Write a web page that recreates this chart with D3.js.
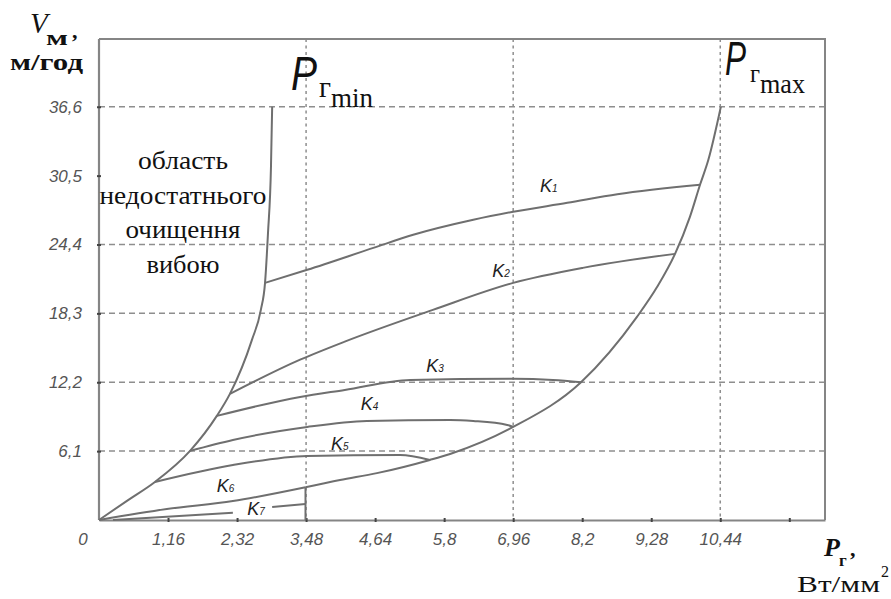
<!DOCTYPE html>
<html>
<head>
<meta charset="utf-8">
<script src="https://cdn.jsdelivr.net/npm/d3@7"></script>
<style>
  body { margin: 0; background: #fff; }
  svg { display: block; }
</style>
</head>
<body>
<div id="chart"></div>
<script>
// ── Data ──────────────────────────────────────────────────────────────

const xTicks = [1.16, 2.32, 3.48, 4.64, 5.8, 6.96, 8.12, 9.28, 10.44, 11.6];
const xTickLabels = ['1,16', '2,32', '3,48', '4,64', '5,8', '6,96', '8,2', '9,28', '10,44', ''];
const yTicks = [6.1, 12.2, 18.3, 24.4, 30.5, 36.6];
const yTickLabels = ['6,1', '12,2', '18,3', '24,4', '30,5', '36,6'];
const yGrid = [6.1, 12.2, 18.3, 24.4, 36.6];
const xGrid = [3.48, 6.96, 10.44];

// boundary curves (P_г min / P_г max)
const pMinCurve = [[0, 0], [0.47, 1.7], [0.94, 3.37], [1.53, 6.12], [1.98, 9.22], [2.20, 11.17],
  [2.57, 15.95], [2.72, 18.61], [2.79, 21.0], [2.84, 25.43], [2.89, 31.28], [2.91, 36.6]];
const pMaxCurve = [[3.47, 2.9], [4.05, 3.54], [4.67, 4.15], [5.56, 5.32], [5.90, 5.85], [6.96, 8.24],
  [8.10, 12.2], [9.04, 17.99], [9.38, 20.65], [9.68, 23.57], [9.93, 26.85], [10.10, 29.69],
  [10.24, 31.9], [10.45, 36.6]];
const stepLine = [[3.47, 2.9], [3.47, 0]];

// K curves
const k1 = [[2.79, 21.0], [3.50, 22.16], [4.61, 24.1], [5.28, 25.26], [6.29, 26.59], [6.96, 27.30],
  [7.87, 28.09], [8.71, 28.85], [10.10, 29.69]];
const k2 = [[2.20, 11.17], [3.38, 14.2], [4.13, 15.8], [5.61, 18.61], [6.96, 21.0], [8.13, 22.33], [9.68, 23.57]];
const k3 = [[1.98, 9.22], [3.38, 10.90], [4.13, 11.52], [5.23, 12.41], [6.96, 12.5], [7.63, 12.41], [8.10, 12.2]];
const k4 = [[1.53, 6.12], [2.25, 7.09], [3.50, 8.24], [4.50, 8.77], [5.90, 8.86], [6.29, 8.77], [6.86, 8.42], [6.96, 8.24]];
const k5 = [[0.94, 3.37], [2.25, 4.87], [3.50, 5.67], [5.06, 5.76], [5.56, 5.32]];
const k6 = [[0, 0], [1.14, 0.97], [2.25, 1.68], [3.47, 2.9]];
const k7 = [[0.235, 0], [2.25, 0.64], null, [2.91, 1.16], [3.47, 1.42]];

const kNames = ['1', '2', '3', '4', '5', '6', '7'];
const kLabelAt = [[7.51, 29.7], [6.71, 22.1], [5.60, 13.7], [4.50, 10.4], [4.0, 6.8], [2.08, 3.1], [2.59, 1.06]];

// ── Setup ─────────────────────────────────────────────────────────────

const W = 891, H = 599;
const GRAY = '#858585';
const CURVE = '#6f6f6f';
const TICKFONT = '"Liberation Sans", Arial, sans-serif';
const SERIF = '"Liberation Serif", "Times New Roman", serif';

const x = d3.scaleLinear().domain([0, 12.2]).range([99, 825]);
const y = d3.scaleLinear().domain([0, 42.6]).range([520, 39]);

const svg = d3.select('#chart').append('svg')
  .attr('width', W).attr('height', H)
  .attr('viewBox', `0 0 ${W} ${H}`);

// Grid
svg.append('g').selectAll('line')
  .data(yGrid)
  .join('line')
  .attr('x1', x(0)).attr('x2', x(12.2))
  .attr('y1', d => y(d)).attr('y2', d => y(d))
  .attr('stroke', '#8e8e8e').attr('stroke-width', 1.5)
  .attr('stroke-dasharray', '6,4');

svg.append('g').selectAll('line')
  .data(xGrid)
  .join('line')
  .attr('x1', d => x(d)).attr('x2', d => x(d))
  .attr('y1', y(42.6)).attr('y2', y(0))
  .attr('stroke', '#8e8e8e').attr('stroke-width', 1.5)
  .attr('stroke-dasharray', '3,3.5');

// Frame (top + right)
svg.append('path')
  .attr('d', `M${x(0)},${y(42.6)}H${x(12.2)}V${y(0)}`)
  .attr('fill', 'none').attr('stroke', GRAY).attr('stroke-width', 2);

// Axes
const xAxis = d3.axisBottom(x)
  .tickValues(xTicks)
  .tickFormat((d, i) => xTickLabels[i])
  .tickSizeInner(2).tickSizeOuter(0).tickPadding(11);
const gx = svg.append('g').attr('transform', `translate(0,${y(0)})`).call(xAxis);
gx.select('.domain').attr('stroke', GRAY).attr('stroke-width', 2.2);
gx.selectAll('.tick line').attr('y1', -2).attr('y2', 2).attr('stroke', '#444').attr('stroke-width', 2);
gx.selectAll('text')
  .attr('font-family', TICKFONT).attr('font-style', 'italic')
  .attr('font-size', 17).attr('fill', '#555');

const yAxis = d3.axisLeft(y)
  .tickValues(yTicks)
  .tickFormat((d, i) => yTickLabels[i])
  .tickSizeInner(2).tickSizeOuter(0).tickPadding(15);
const gy = svg.append('g').attr('transform', `translate(${x(0)},0)`).call(yAxis);
gy.select('.domain').attr('stroke', GRAY).attr('stroke-width', 2.2)
  .attr('d', `M0,${y(42.6)}V${y(0)}`);
gy.selectAll('.tick line').attr('x1', -2).attr('x2', 2).attr('stroke', '#444').attr('stroke-width', 2);
gy.selectAll('text')
  .attr('font-family', TICKFONT).attr('font-style', 'italic')
  .attr('font-size', 17).attr('fill', '#555');

svg.append('text')
  .attr('x', 83).attr('y', 545)
  .attr('text-anchor', 'middle')
  .attr('font-family', TICKFONT).attr('font-style', 'italic')
  .attr('font-size', 17).attr('fill', '#555')
  .text('0');

// Curves
const smooth = d3.line()
  .defined(d => d !== null)
  .x(d => x(d[0])).y(d => y(d[1]))
  .curve(d3.curveMonotoneX);
const straight = d3.line().x(d => x(d[0])).y(d => y(d[1]));

const curves = [pMinCurve, pMaxCurve, k1, k2, k3, k4, k5, k6, k7];
svg.append('g').selectAll('path')
  .data(curves)
  .join('path')
  .attr('d', smooth)
  .attr('fill', 'none')
  .attr('stroke', CURVE).attr('stroke-width', 2)
  .attr('stroke-linejoin', 'round');

svg.append('path')
  .attr('d', straight(stepLine))
  .attr('fill', 'none').attr('stroke', CURVE).attr('stroke-width', 2);

// K labels
const kl = svg.append('g').selectAll('text')
  .data(kNames)
  .join('text')
  .attr('x', (d, i) => x(kLabelAt[i][0]) - 6)
  .attr('y', (d, i) => y(kLabelAt[i][1]) + 7)
  .attr('font-family', TICKFONT).attr('font-style', 'italic')
  .attr('font-size', 18).attr('fill', '#222');
kl.append('tspan').text('K');
kl.append('tspan').attr('font-size', 10).text(d => d);

// Region text
const region = ['область', 'недостатнього', 'очищення', 'вибою'];
const regionW = [90, 167, 115, 73];
svg.append('g').selectAll('text')
  .data(region)
  .join('text')
  .attr('x', 183)
  .attr('y', (d, i) => 169 + i * 34.5)
  .attr('text-anchor', 'middle')
  .attr('font-family', SERIF).attr('font-size', 25)
  .attr('fill', '#111')
  .attr('textLength', (d, i) => regionW[i])
  .attr('lengthAdjust', 'spacingAndGlyphs')
  .text(d => d);

// Y axis title: V_м , / м/год
svg.append('text').attr('x', 30).attr('y', 33)
  .attr('font-family', SERIF).attr('font-style', 'italic')
  .attr('font-size', 29).attr('fill', '#111').text('V');
svg.append('text').attr('x', 46).attr('y', 45)
  .attr('font-family', SERIF).attr('font-weight', 'bold')
  .attr('font-size', 21).attr('fill', '#111')
  .attr('textLength', 22).attr('lengthAdjust', 'spacingAndGlyphs').text('м');
svg.append('text').attr('x', 72).attr('y', 38)
  .attr('font-family', SERIF).attr('font-weight', 'bold')
  .attr('font-size', 22).attr('fill', '#111').text(',');
svg.append('text').attr('x', 10).attr('y', 70)
  .attr('font-family', SERIF).attr('font-weight', 'bold')
  .attr('font-size', 24).attr('fill', '#111')
  .attr('textLength', 73).attr('lengthAdjust', 'spacingAndGlyphs').text('м/год');

// P_г min
svg.append('text').attr('x', 291).attr('y', 90)
  .attr('font-family', TICKFONT).attr('font-style', 'italic')
  .attr('font-size', 48).attr('fill', '#111')
  .attr('textLength', 26).attr('lengthAdjust', 'spacingAndGlyphs').text('P');
svg.append('text').attr('x', 319).attr('y', 97)
  .attr('font-family', SERIF).attr('font-size', 30).attr('fill', '#111')
  .attr('textLength', 12).attr('lengthAdjust', 'spacingAndGlyphs').text('г');
svg.append('text').attr('x', 331).attr('y', 107)
  .attr('font-family', SERIF).attr('font-size', 28).attr('fill', '#111')
  .attr('textLength', 42).attr('lengthAdjust', 'spacingAndGlyphs').text('min');

// P_г max
svg.append('text').attr('x', 725).attr('y', 75)
  .attr('font-family', TICKFONT).attr('font-style', 'italic')
  .attr('font-size', 48).attr('fill', '#111')
  .attr('textLength', 21).attr('lengthAdjust', 'spacingAndGlyphs').text('P');
svg.append('text').attr('x', 750).attr('y', 82)
  .attr('font-family', SERIF).attr('font-size', 26).attr('fill', '#111')
  .attr('textLength', 10).attr('lengthAdjust', 'spacingAndGlyphs').text('г');
svg.append('text').attr('x', 760).attr('y', 93)
  .attr('font-family', SERIF).attr('font-size', 28).attr('fill', '#111')
  .attr('textLength', 45).attr('lengthAdjust', 'spacingAndGlyphs').text('max');

// X axis title: P_г , / Вт/мм²
svg.append('text').attr('x', 824).attr('y', 556)
  .attr('font-family', SERIF).attr('font-style', 'italic').attr('font-weight', 'bold')
  .attr('font-size', 26).attr('fill', '#111').text('P');
svg.append('text').attr('x', 839).attr('y', 566)
  .attr('font-family', SERIF).attr('font-weight', 'bold')
  .attr('font-size', 17).attr('fill', '#111').text('г');
svg.append('text').attr('x', 850).attr('y', 556)
  .attr('font-family', SERIF).attr('font-weight', 'bold')
  .attr('font-size', 22).attr('fill', '#111').text(',');
svg.append('text').attr('x', 797).attr('y', 592)
  .attr('font-family', SERIF)
  .attr('font-size', 23).attr('fill', '#111')
  .attr('textLength', 83).attr('lengthAdjust', 'spacingAndGlyphs').text('Вт/мм');
svg.append('text').attr('x', 881).attr('y', 577)
  .attr('font-family', SERIF)
  .attr('font-size', 16).attr('fill', '#111').text('2');
</script>
</body>
</html>
